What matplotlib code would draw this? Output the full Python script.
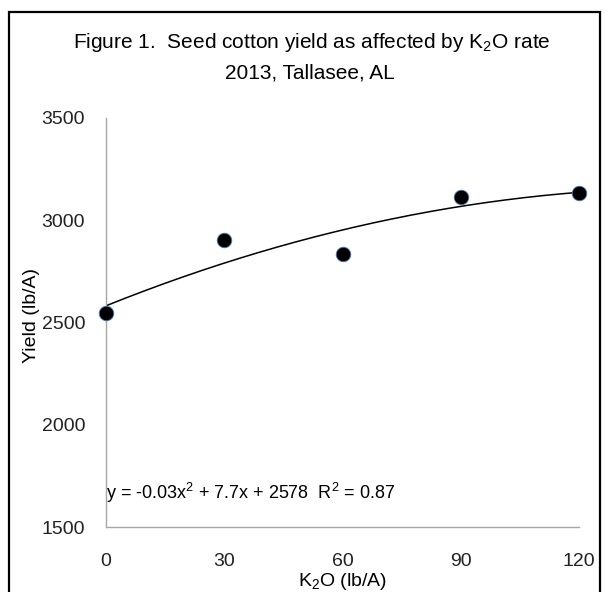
"""Seed cotton yield vs K2O rate, 2013 Tallasee AL — scatter with quadratic trendline."""

import matplotlib
matplotlib.use("Agg")
import matplotlib.pyplot as plt
import numpy as np
from matplotlib.patches import Rectangle

# data
k2o_rate = [0, 30, 60, 90, 120]
yield_lb = [2546, 2901, 2835, 3114, 3133]
x_ticks = [0, 30, 60, 90, 120]
y_ticks = [1500, 2000, 2500, 3000, 3500]
equation = "y = -0.03x$^2$ + 7.7x + 2578  R$^2$ = 0.87"

FONT = ["Liberation Sans", "DejaVu Sans"]
plt.rcParams["font.family"] = FONT
plt.rcParams["mathtext.fontset"] = "custom"
plt.rcParams["mathtext.rm"] = "Liberation Sans"
plt.rcParams["mathtext.it"] = "Liberation Sans"

fig = plt.figure(figsize=(6.05, 5.92), dpi=100)
ax = fig.add_axes([106 / 605, 1 - 527 / 592, (579 - 106) / 605, (527 - 118) / 592])

# outer chart border (bottom edge runs off the image)
fig.patches.append(Rectangle((9 / 605, -0.05), (600 - 9) / 605, 1.05 - 12 / 592,
                             transform=fig.transFigure, fill=False,
                             edgecolor="black", linewidth=1.6))

# quadratic trendline
coef = np.polyfit(k2o_rate, yield_lb, 2)
xs = np.linspace(0, 120, 200)
ax.plot(xs, np.polyval(coef, xs), color="black", linewidth=1.1, zorder=2)

ax.scatter(k2o_rate, yield_lb, s=110, color="black", edgecolor="#4a7ab8",
           linewidth=0.6, zorder=3, clip_on=False)

ax.set_xlim(0, 120)
ax.set_ylim(1500, 3500)
ax.set_xticks(x_ticks)
ax.set_yticks(y_ticks)
ax.tick_params(length=0, labelsize=14, colors="#222222")
ax.tick_params(axis="x", pad=19)
ax.tick_params(axis="y", pad=15)
for s in ("top", "right"):
    ax.spines[s].set_visible(False)
for s in ("left", "bottom"):
    ax.spines[s].set_color("#a6a6a6")
    ax.spines[s].set_linewidth(1.0)

ax.set_xlabel("K$_2$O (lb/A)", fontsize=14)
ax.xaxis.set_label_coords((343 - 106) / 473, -(582 - 527) / 409)
ax.xaxis.label.set_va("center")
ax.set_ylabel("Yield (lb/A)", fontsize=14)
ax.yaxis.set_label_coords((31 - 106) / 473, (527 - 315) / 409)
ax.yaxis.label.set_va("center")

ax.text(0.0, 1666, equation, fontsize=13, va="center", ha="left")

fig.text(0.516, 1 - 42 / 592,
         "Figure 1.  Seed cotton yield as affected by K$_2$O rate",
         fontsize=15, ha="center", va="center")
fig.text(0.513, 1 - 73 / 592, "2013, Tallasee, AL",
         fontsize=15, ha="center", va="center")

fig.savefig("out.png", dpi=100)
